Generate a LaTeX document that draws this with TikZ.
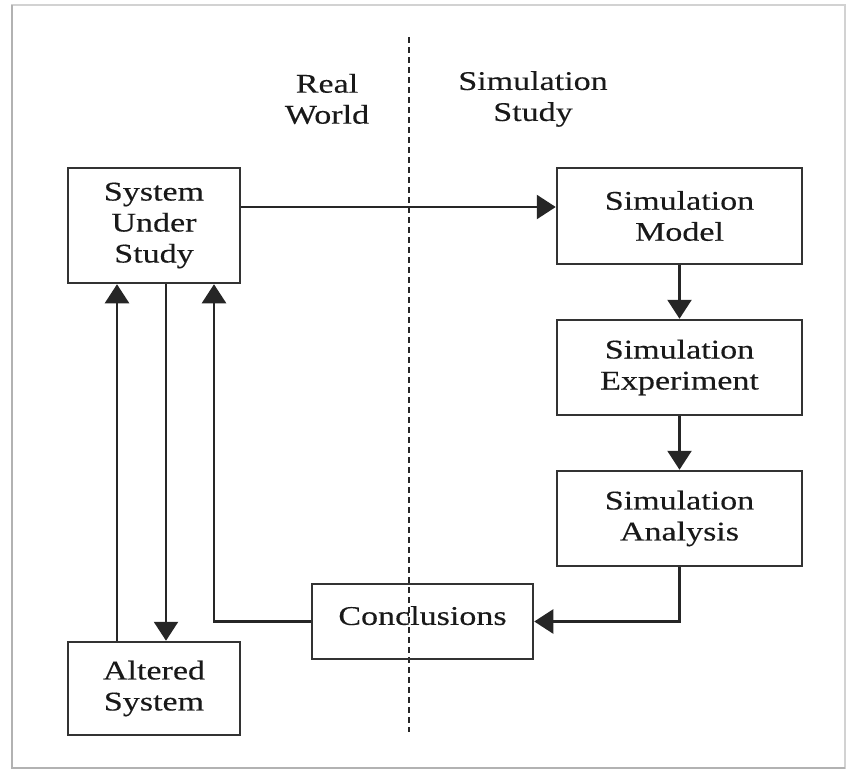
\documentclass[tikz,border=0pt]{standalone}
\usepackage{fontspec}
\setmainfont[FakeStretch=1.26, FakeBold=0.3]{Liberation Serif}
\usepackage{tikz}
\usetikzlibrary{calc}
\usetikzlibrary{arrows.meta}

\begin{document}
\begin{tikzpicture}[x=1pt, y=-1pt,
        box/.style={draw=black!80, line width=2.5pt, rectangle, inner sep=0pt, align=center,
                    font=\fontsize{27}{31}\selectfont, text=black!90},
        lbl/.style={align=center, font=\fontsize{27}{31}\selectfont, text=black!90},
        arr/.style={draw=black!85, line width=2.5pt, -{Triangle[length=19pt, width=24pt]}},
        divider/.style={draw=black!85, line width=1.6pt, dash pattern=on 6pt off 4pt}]
    \useasboundingbox (0,0) rectangle (850,771);
    % frame round the figure
    \draw [gray!35, line width=1.5pt] (12,5) rectangle (845,768);
    \draw [gray!60, line width=2pt] (12,5) -- (12,768) -- (845,768);

    % real world / simulation divider
    \coordinate (divtop) at (409,37);
    \coordinate (divbot) at (409,732);
    \draw [divider] (divtop) -- (divbot);
    \node [lbl] (real) at (327,99) {Real\\World};
    \node [lbl] (simstudy) at (533,99) {Simulation\\Study};

    % boxes
    \node [box, minimum width=172pt, minimum height=115pt] (sus) at (154,225.5) {System\\Under\\Study};
    \node [box, minimum width=172pt, minimum height=93pt] (alt) at (154,688.5) {Altered\\System};
    \node [box, minimum width=245pt, minimum height=96pt] (model) at (679.5,216) {Simulation\\Model};
    \node [box, minimum width=245pt, minimum height=95pt] (exper) at (679.5,367.5) {Simulation\\Experiment};
    \node [box, minimum width=245pt, minimum height=95pt] (anal) at (679.5,518.5) {Simulation\\Analysis};
    \node [box, minimum width=221pt, minimum height=75pt, text depth=12pt] (concl) at (422.5,621.5) {Conclusions};

    % connectors
    \coordinate (upL) at (117,0);
    \coordinate (downM) at (166,0);
    \coordinate (upR) at (214,0);
    \coordinate (rowA) at (0,207);
    \draw [arr] (sus.east |- rowA) -- (model.west |- rowA);
    \draw [arr] (model) -- (exper);
    \draw [arr] (exper) -- (anal);
    \draw [arr] (anal.south) |- (concl.east);
    \draw [arr] (concl.west) -| (upR |- sus.south);
    \draw [arr] (alt.north -| upL) -- (sus.south -| upL);
    \draw [arr] (sus.south -| downM) -- (alt.north -| downM);
\end{tikzpicture}
\end{document}
